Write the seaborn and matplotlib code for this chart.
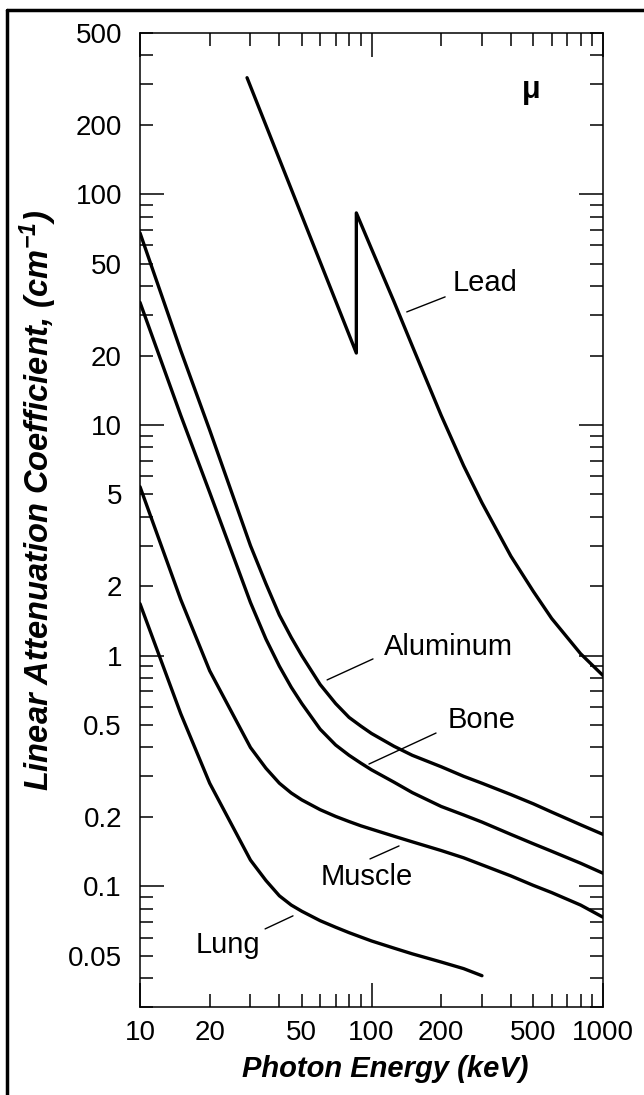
import numpy as np
import pandas as pd
import matplotlib
matplotlib.use("Agg")
import matplotlib.pyplot as plt
import seaborn as sns
from matplotlib.ticker import FixedLocator, FuncFormatter
from matplotlib.lines import Line2D

# ---------------- data ----------------
energy = [10, 15, 20, 30, 35, 40, 45, 50, 60, 70, 80, 90, 100, 125, 150, 200, 250, 300, 400, 500, 600, 800, 1000]
aluminum = [68, 21, 9.5, 3.0, 2.05, 1.5, 1.2, 1.0, 0.75, 0.62, 0.54, 0.495, 0.46, 0.405, 0.37, 0.33, 0.30, 0.28,
            0.25, 0.228, 0.21, 0.185, 0.168]
bone = [34, 11, 5.1, 1.7, 1.18, 0.9, 0.73, 0.62, 0.48, 0.41, 0.37, 0.342, 0.32, 0.283, 0.255, 0.222, 0.204, 0.19,
        0.168, 0.153, 0.142, 0.126, 0.114]
muscle = [5.4, 1.75, 0.86, 0.40, 0.325, 0.28, 0.254, 0.237, 0.215, 0.201, 0.191, 0.183, 0.177, 0.165, 0.156, 0.143,
          0.133, 0.124, 0.111, 0.101, 0.094, 0.083, 0.0735]

lung_energy = [10, 15, 20, 30, 35, 40, 45, 50, 60, 70, 80, 90, 100, 125, 150, 200, 250, 300]
lung = [1.68, 0.56, 0.28, 0.13, 0.106, 0.091, 0.083, 0.078, 0.071, 0.0665, 0.063, 0.0603, 0.058, 0.054, 0.051,
        0.047, 0.044, 0.041]

lead_energy = [29, 86, 86, 100, 125, 150, 200, 250, 300, 400, 500, 600, 800, 1000]
lead = [320, 20.5, 83, 58, 34.3, 22, 11.0, 6.66, 4.6, 2.7, 1.9, 1.45, 1.02, 0.82]

x_major = [10, 100, 1000]
x_minor = [20, 30, 40, 50, 60, 70, 80, 90, 200, 300, 400, 500, 600, 700, 800, 900]
x_tick_values = [10, 20, 50, 100, 200, 500, 1000]
x_tick_labels = ["10", "20", "50", "100", "200", "500", "1000"]

y_major = [0.1, 1, 10, 100]
y_minor = [0.03, 0.04, 0.05, 0.06, 0.07, 0.08, 0.09, 0.2, 0.3, 0.4, 0.5, 0.6, 0.7, 0.8, 0.9,
           2, 3, 4, 5, 6, 7, 8, 9, 20, 30, 40, 50, 60, 70, 80, 90, 200, 300, 400, 500]
y_tick_values = [0.05, 0.1, 0.2, 0.5, 1, 2, 5, 10, 20, 50, 100, 200, 500]
y_tick_labels = ["0.05", "0.1", "0.2", "0.5", "1", "2", "5", "10", "20", "50", "100", "200", "500"]

# label text, text position (E, mu), leader start, leader end
labels = ["Lead", "Aluminum", "Bone", "Muscle", "Lung"]
label_pos = [(309, 41.3), (214, 1.09), (300, 0.526), (95.6, 0.1098), (24, 0.0557)]
leader_from = [(142, 30.9), (64.3, 0.785), (97.5, 0.339), (98.5, 0.1315), (34.7, 0.0654)]
leader_to = [(208, 35.9), (101.5, 0.968), (190, 0.462), (131.5, 0.1497), (45.8, 0.0745)]

# ---------------- style ----------------
sns.set_theme(style="ticks")
plt.rcParams["font.family"] = ["Liberation Sans", "DejaVu Sans"]
plt.rcParams["mathtext.fontset"] = "custom"
plt.rcParams["mathtext.rm"] = "Liberation Sans:bold:italic"
plt.rcParams["mathtext.it"] = "Liberation Sans:bold:italic"
plt.rcParams["mathtext.bf"] = "Liberation Sans:bold:italic"

fig = plt.figure(figsize=(6.44, 10.95), dpi=100)
fig.patch.set_facecolor("white")
ax = fig.add_axes([140 / 644, (1095 - 1007) / 1095, 463 / 644, (1007 - 33) / 1095])
ax.set_facecolor("white")

lw = 2.4
sns.lineplot(x=energy, y=aluminum, ax=ax, color="black", lw=lw, estimator=None, sort=False)
sns.lineplot(x=energy, y=bone, ax=ax, color="black", lw=lw, estimator=None, sort=False)
sns.lineplot(x=energy, y=muscle, ax=ax, color="black", lw=lw, estimator=None, sort=False)
sns.lineplot(x=lung_energy, y=lung, ax=ax, color="black", lw=lw, estimator=None, sort=False)
sns.lineplot(x=lead_energy, y=lead, ax=ax, color="black", lw=lw, estimator=None, sort=False)

ax.set_xscale("log")
ax.set_yscale("log")
ax.set_xlim(10, 1000)
ax.set_ylim(0.03, 500)

xlab = dict(zip(x_tick_values, x_tick_labels))
ylab = dict(zip(y_tick_values, y_tick_labels))

def fmt_from(d):
    def f(v, pos):
        for k, s in d.items():
            if abs(v - k) / k < 1e-6:
                return s
        return ""
    return FuncFormatter(f)

ax.xaxis.set_major_locator(FixedLocator(x_major))
ax.xaxis.set_minor_locator(FixedLocator(x_minor))
ax.xaxis.set_major_formatter(fmt_from(xlab))
ax.xaxis.set_minor_formatter(fmt_from(xlab))
ax.yaxis.set_major_locator(FixedLocator(y_major))
ax.yaxis.set_minor_locator(FixedLocator(y_minor))
ax.yaxis.set_major_formatter(fmt_from(ylab))
ax.yaxis.set_minor_formatter(fmt_from(ylab))

ax.tick_params(which="both", direction="in", top=True, right=True, color="black",
               labelsize=20, labelcolor="black")
ax.tick_params(which="major", length=17, width=1.1)
ax.tick_params(which="minor", length=9.5, width=1.1)
ax.tick_params(axis="x", which="both", pad=9)
ax.tick_params(axis="y", which="both", pad=13)
ax.tick_params(labeltop=False, labelright=False)

for s in ax.spines.values():
    s.set_visible(True)
    s.set_linewidth(1.1)
    s.set_color("black")

ax.set_xlabel("Photon Energy (keV)", fontsize=21, fontweight="bold", fontstyle="italic", color="black")
ax.set_ylabel("Linear Attenuation Coefficient, (cm$^{-1}$)", fontsize=23.5, fontweight="bold",
              fontstyle="italic", color="black")
ax.xaxis.set_label_coords(0.529, -0.049)
ax.yaxis.set_label_coords(-0.175, 0.52)

for name, tp, a, b in zip(labels, label_pos, leader_from, leader_to):
    ax.text(tp[0], tp[1], name, fontsize=21, ha="center", va="center", color="black")
    ax.plot([a[0], b[0]], [a[1], b[1]], color="black", lw=1.0)

ax.text(489, 283, "μ", fontsize=22, fontweight="bold", ha="center", va="center", color="black")

# outer frame of the scanned figure (top and left edges)
fig.add_artist(Line2D([7 / 644, 7 / 644], [0, 1 - 10 / 1095], transform=fig.transFigure, color="black", lw=2.5))
fig.add_artist(Line2D([7 / 644, 1], [1 - 10 / 1095, 1 - 10 / 1095], transform=fig.transFigure, color="black", lw=2.5))

fig.savefig("out.png", dpi=100, facecolor="white")
